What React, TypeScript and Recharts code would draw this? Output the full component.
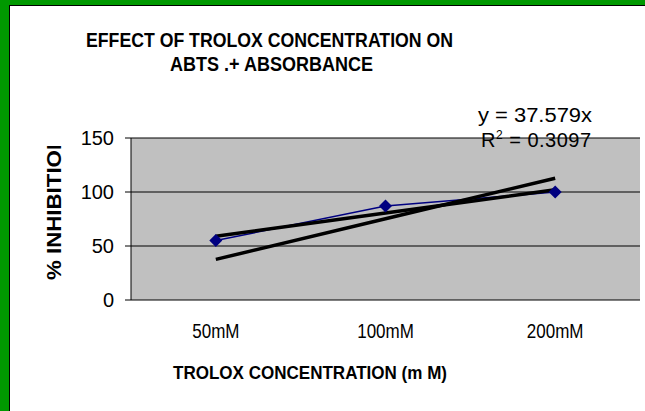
import React from "react";
import { ComposedChart, Line, XAxis, YAxis, CartesianGrid } from "recharts";

const categories = ["50mM", "100mM", "200mM"];
const positions = [1, 2, 3];
const inhibition = [55, 87, 100];
// trendline shown as y = 37.579x
const trendThroughOrigin = [37.6, 75.2, 112.7];
// second (least squares) trendline
const linearFit = [59, 80.5, 102];
const yTicks = [0, 50, 100, 150];
const bandEdges = [0.5, 1.5, 2.5, 3.5];

const data = positions.map((x, i) => ({
  x,
  cat: categories[i],
  inhibition: inhibition[i],
  origin: trendThroughOrigin[i],
  fit: linearFit[i],
}));

const FONT = "'Liberation Sans', Arial, sans-serif";

const Diamond = (props: any) => {
  const { cx, cy, index } = props;
  if (cx == null || cy == null) return null;
  const r = 6.5;
  return (
    <path
      key={`dot-${index}`}
      d={`M${cx},${cy - r}L${cx + r},${cy}L${cx},${cy + r}L${cx - r},${cy}Z`}
      fill="#000080"
    />
  );
};

// narrow category labels, like the original
const CategoryTick = (props: any) => {
  const { x, y, payload } = props;
  return (
    <text
      transform={`translate(${x},${y}) scale(0.85,1)`}
      textAnchor="middle"
      dy="0.71em"
      fontSize={20}
      fill="#000"
      fontFamily={FONT}
    >
      {categories[payload.value - 1]}
    </text>
  );
};

export default function App() {
  return (
    <div style={{ position: "absolute", left: 0, top: 0, width: 645, height: 411, background: "#fff", overflow: "hidden", fontFamily: FONT }}>
      <div style={{ position: "absolute", left: 0, top: 0, width: 9, height: 411, background: "#009900" }} />
      <div style={{ position: "absolute", left: 0, top: 0, width: 645, height: 5, background: "#009900" }} />
      <div style={{ position: "absolute", left: 9, top: 5, width: 1, height: 406, background: "#000" }} />
      <div style={{ position: "absolute", left: 9, top: 5, width: 636, height: 1, background: "#000" }} />
      <div style={{ position: "absolute", left: 0, top: 0 }}>
        <ComposedChart width={645} height={411} data={data} margin={{ top: 138, right: 5, bottom: 81, left: 91 }}>
          <CartesianGrid xAxisId="lbl" vertical={false} stroke="#000" fill="#C0C0C0" fillOpacity={1} />
          <XAxis
            xAxisId="edge"
            type="number"
            dataKey="x"
            domain={[0.5, 3.5]}
            ticks={bandEdges}
            interval={0}
            tickFormatter={() => ""}
            tickSize={6}
            height={0}
            axisLine={{ stroke: "#000" }}
            tickLine={{ stroke: "#000" }}
          />
          <XAxis
            xAxisId="lbl"
            type="number"
            dataKey="x"
            domain={[0.5, 3.5]}
            ticks={positions}
            interval={0}
            tickLine={false}
            axisLine={false}
            tickSize={0}
            tickMargin={24}
            height={30}
            tick={CategoryTick}
          />
          <XAxis
            xAxisId="top"
            orientation="top"
            type="number"
            dataKey="x"
            domain={[0.5, 3.5]}
            height={0}
            tick={false}
            tickLine={false}
            axisLine={{ stroke: "#808080" }}
          />
          <YAxis
            domain={[0, 150]}
            ticks={yTicks}
            interval={0}
            width={40}
            tickSize={6}
            tickMargin={11}
            axisLine={{ stroke: "#000" }}
            tickLine={{ stroke: "#000" }}
            tick={{ fontSize: 20, fill: "#000", fontFamily: FONT }}
          />
          <YAxis
            yAxisId="right"
            orientation="right"
            domain={[0, 150]}
            width={0}
            tick={false}
            tickLine={false}
            axisLine={{ stroke: "#808080" }}
          />
          <Line
            xAxisId="lbl"
            dataKey="inhibition"
            type="linear"
            stroke="#000080"
            strokeWidth={1.5}
            dot={Diamond}
            activeDot={false}
            isAnimationActive={false}
          />
          <Line
            xAxisId="lbl"
            dataKey="fit"
            type="linear"
            stroke="#000"
            strokeWidth={3.5}
            dot={false}
            activeDot={false}
            isAnimationActive={false}
          />
          <Line
            xAxisId="lbl"
            dataKey="origin"
            type="linear"
            stroke="#000"
            strokeWidth={3.5}
            dot={false}
            activeDot={false}
            isAnimationActive={false}
          />
        </ComposedChart>
      </div>
      <svg
        width={645}
        height={411}
        style={{ position: "absolute", left: 0, top: 0, pointerEvents: "none" }}
        fontFamily={FONT}
      >
        <defs>
          <clipPath id="ylabClip">
            <rect x={0} y={146} width={120} height={200} />
          </clipPath>
        </defs>
        <text x={86} y={47} fontWeight="bold" fontSize={20} textLength={367} lengthAdjust="spacingAndGlyphs">
          EFFECT OF TROLOX CONCENTRATION ON
        </text>
        <text x={170} y={71} fontWeight="bold" fontSize={20} textLength={203} lengthAdjust="spacingAndGlyphs">
          ABTS .+ ABSORBANCE
        </text>
        <text x={173} y={379} fontWeight="bold" fontSize={19} textLength={274} lengthAdjust="spacingAndGlyphs">
          TROLOX CONCENTRATION (m M)
        </text>
        <g clipPath="url(#ylabClip)">
          <text
            x={61}
            y={280}
            transform="rotate(-90, 61, 280)"
            fontWeight="bold"
            fontSize={20}
            textLength={146}
            lengthAdjust="spacingAndGlyphs"
          >
            % INHIBITION
          </text>
        </g>
        <text x={478} y={122} fontSize={20} textLength={114} lengthAdjust="spacingAndGlyphs">
          y = 37.579x
        </text>
        <text x={481} y={147} fontSize={20} textLength={110} lengthAdjust="spacing">
          R<tspan fontSize={12} dy={-8}>2</tspan>
          <tspan dy={8}> = 0.3097</tspan>
        </text>
      </svg>
    </div>
  );
}
